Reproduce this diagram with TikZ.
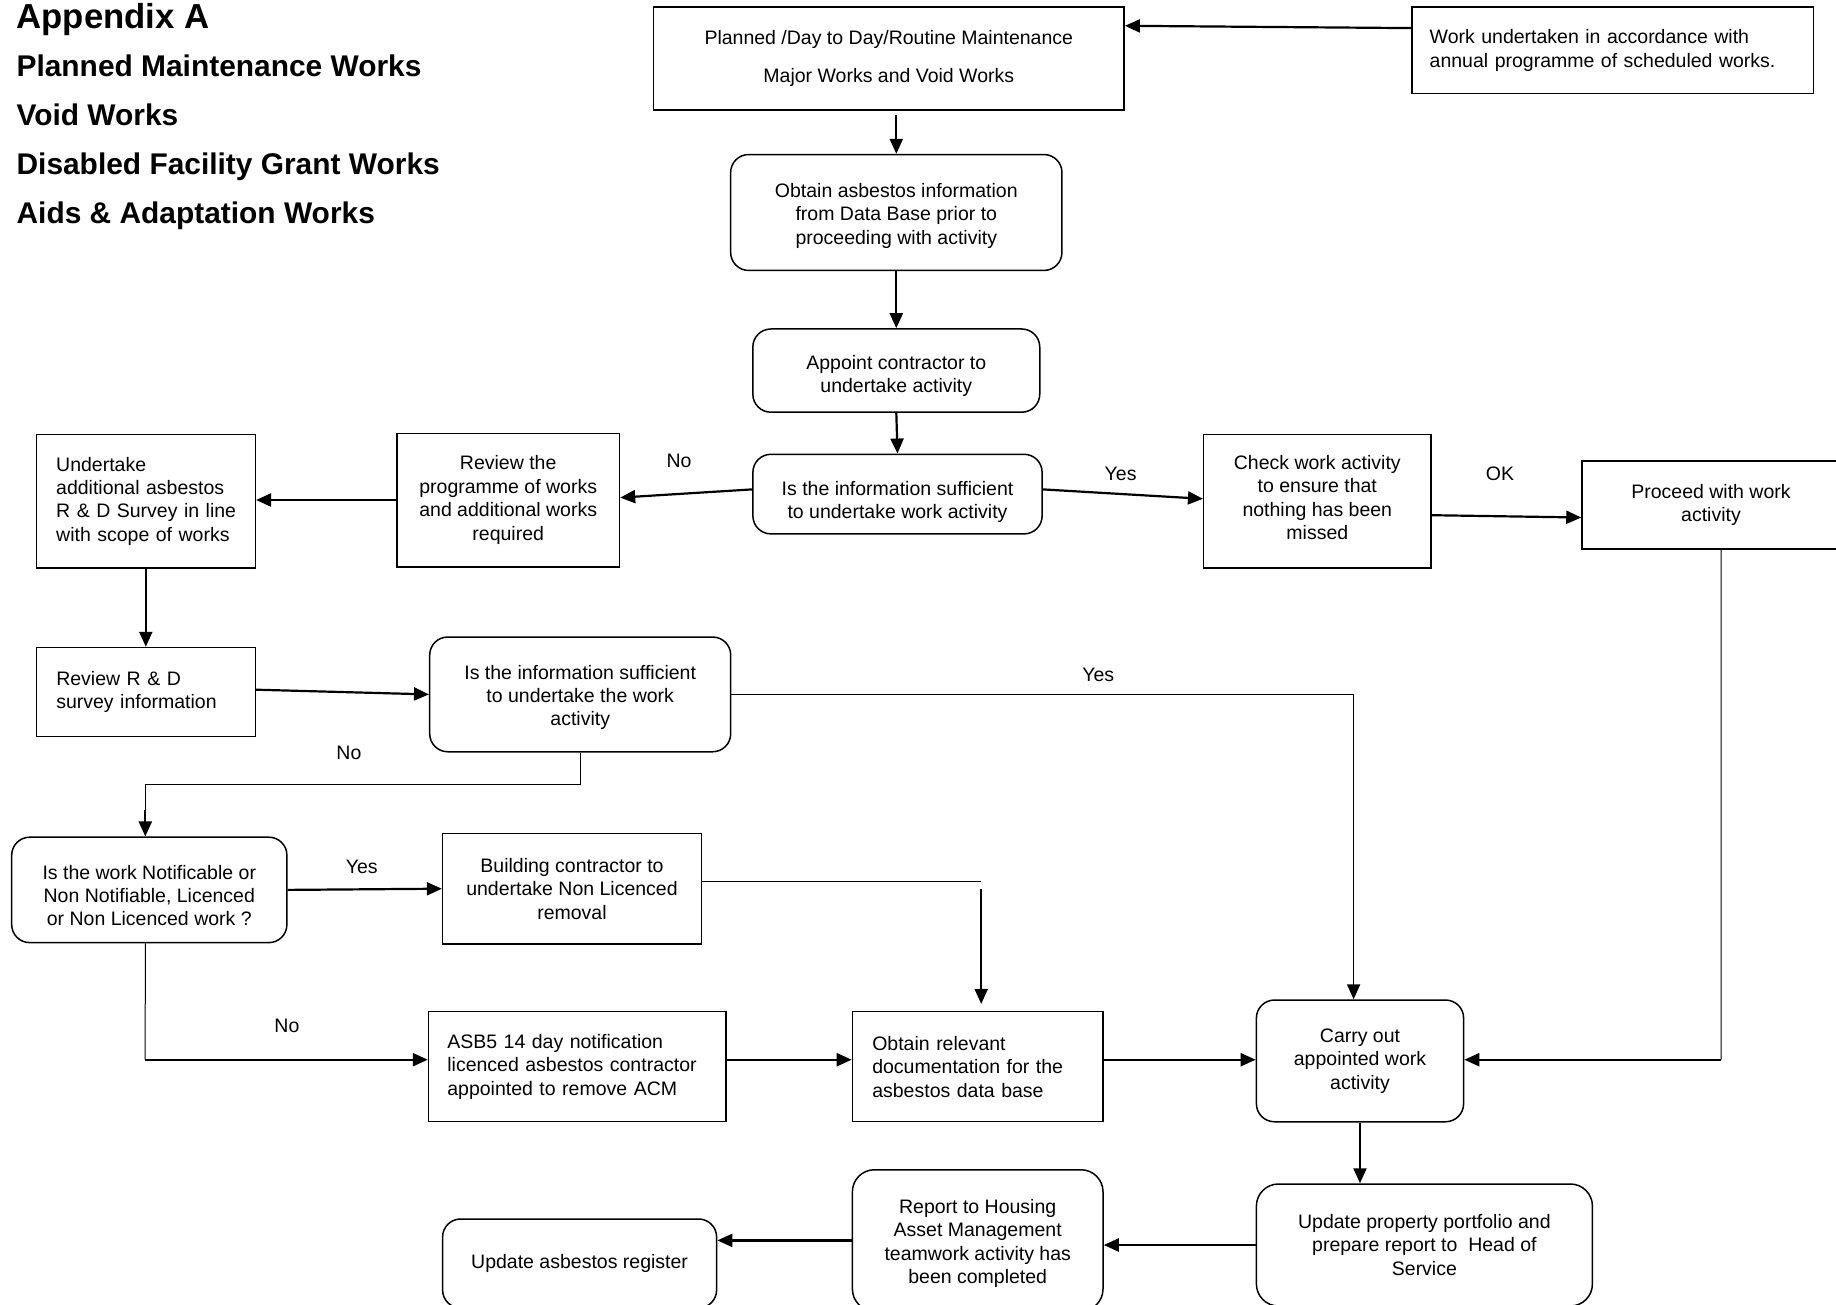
\documentclass[tikz,border=0pt]{standalone}
\usepackage{fontspec}
\setmainfont{Liberation Sans}
\usetikzlibrary{arrows.meta}
\newcommand\bodyfont{\fontsize{19.5}{23.4}\selectfont}
\newcommand\bigtitlefont{\fontsize{34.7}{40}\selectfont\bfseries}
\newcommand\subtitlefont{\fontsize{29.9}{34}\selectfont\bfseries}
% move a centred block of lines by #1 without changing its box
\newcommand\mvtext[2]{\raisebox{#1}[\height][\depth]{\begin{tabular}{@{}c@{}}#2\end{tabular}}}
\newcommand\ind{\hspace*{4.4pt}}
\tikzset{
  box/.style={draw, line width=1.5pt, inner sep=0pt, align=center, font=\bodyfont},
  rbox/.style={box, rounded corners=18pt},
  lbox/.style={box, align=left, inner ysep=0pt},
  arr/.style={line width=2.2pt, -{Triangle[length=15pt,width=13pt]}},
  thinline/.style={line width=1pt},
  lbl/.style={font=\bodyfont, inner sep=0pt},
  ttl/.style={anchor=base west, inner sep=0pt}
}
\begin{document}
\begin{tikzpicture}[x=1pt,y=-1pt]
\useasboundingbox[fill=white] (0,0) rectangle (1836,1305);

% titles
\node[ttl, font=\bigtitlefont] (t1) at (16.4,28.8) {Appendix A};
\node[ttl, font=\subtitlefont] (t2) at (16.4,76.3) {Planned Maintenance Works};
\node[ttl, font=\subtitlefont] (t3) at (16.4,125.4) {Void Works};
\node[ttl, font=\subtitlefont] (t4) at (16.4,174.6) {Disabled Facility Grant Works};
\node[ttl, font=\subtitlefont] (t5) at (16.4,223.8) {Aids \& Adaptation Works};

% boxes
\node[box, minimum width=470.7pt, minimum height=103pt] (A) at (888.8,58.5)
  {Planned /Day to Day/Routine Maintenance\\[14pt]Major Works and Void Works};
\node[lbox, text width=366.4pt, inner xsep=17.6pt, minimum height=86.7pt] (B) at (1612.9,50.4)
  {Work undertaken in accordance with\\annual programme of scheduled works.\\[12pt]};
\node[rbox, minimum width=331.3pt, minimum height=115.9pt] (C) at (896.3,212.5)
  {\mvtext{-3.5pt}{Obtain asbestos information\\from Data Base prior to\\proceeding with activity}};
\node[rbox, minimum width=286.9pt, minimum height=83.2pt] (D) at (896.3,370.6)
  {\mvtext{-5.9pt}{Appoint contractor to\\undertake activity}};
\node[rbox, minimum width=289.2pt, minimum height=79.6pt] (E) at (897.5,494.1)
  {\mvtext{-8pt}{Is the information sufficient\\to undertake work activity}};
\node[box, minimum width=222.5pt, minimum height=133.5pt] (F) at (508.2,500)
  {Review the\\programme of works\\and additional works\\required};
\node[lbox, text width=188pt, inner xsep=15.5pt, minimum height=133.5pt] (G) at (145.8,501.2)
  {\ind Undertake\\\ind additional asbestos\\\ind R \& D Survey in line\\\ind with scope of works\\[6pt]};
\node[box, minimum width=227.2pt, minimum height=133.5pt] (H) at (1317.3,501.2)
  {\mvtext{1.5pt}{Check work activity\\to ensure that\\nothing has been\\missed}};
\node[box, minimum width=258pt, minimum height=88pt] (I) at (1711,505.2)
  {Proceed with work\\activity};
\node[lbox, text width=179pt, inner xsep=20pt, minimum height=89pt] (K) at (145.8,692)
  {Review R \& D\\survey information};
\node[rbox, minimum width=301pt, minimum height=114.7pt] (L) at (580.2,694.4)
  {\mvtext{-3.5pt}{Is the information sufficient\\to undertake the work\\activity}};
\node[rbox, minimum width=275.2pt, minimum height=105.4pt] (M) at (149.3,889.9)
  {\mvtext{-8pt}{Is the work Notificable or\\Non Notifiable, Licenced\\or Non Licenced work ?}};
\node[box, minimum width=258.8pt, minimum height=110.1pt] (N) at (572,888.7)
  {Building contractor to\\undertake Non Licenced\\removal};
\node[lbox, text width=259.9pt, inner xsep=18.8pt, minimum height=110pt] (P) at (577.3,1066.7)
  {ASB5 14 day notification\\licenced asbestos contractor\\appointed to remove ACM\\[4pt]};
\node[lbox, text width=210.8pt, inner xsep=19.9pt, minimum height=110pt] (O) at (977.7,1066.7)
  {Obtain relevant\\documentation for the\\asbestos data base\\[6pt]};
\node[rbox, minimum width=207.2pt, minimum height=121.7pt] (J) at (1360,1060.9)
  {Carry out\\appointed work\\activity};
\node[rbox, minimum width=336pt, minimum height=122pt, rounded corners=22pt] (Q) at (1424.4,1245)
  {Update property portfolio and\\prepare report to~ Head of\\Service};
\node[rbox, minimum width=250.6pt, minimum height=141.3pt, rounded corners=22pt] (R) at (977.7,1240.4)
  {\mvtext{-3.5pt}{Report to Housing\\Asset Management\\teamwork activity has\\been completed}};
\node[rbox, minimum width=274pt, minimum height=89pt] (S) at (579.6,1263.5)
  {Update asbestos register};

% labels
\node[lbl] (lno1) at (679.1,461.3) {No};
\node[lbl] (lyes1) at (1120.6,474.2) {Yes};
\node[lbl] (lok) at (1500,474.2) {OK};
\node[lbl] (lyes2) at (1098.3,674.4) {Yes};
\node[lbl] (lno2) at (348.9,752.9) {No};
\node[lbl] (lyes3) at (361.8,866.5) {Yes};
\node[lbl] (lno3) at (286.9,1025.7) {No};

% free-end coordinates
\coordinate (n1) at (981.2,881.7);
\coordinate (m1) at (145.2,1059.7);
\coordinate (i1) at (1721.2,1059.7);
\coordinate (l1) at (1353.6,694.4);

% connectors
\draw[arr] ([yshift=22.3pt]B.west) -- ([yshift=32.7pt]A.east);
\draw[arr, shorten <=4.6pt] (C.north |- A.south) -- (C.north);
\draw[arr] (C.south) -- (D.north);
\draw[arr] (D.south) -- (E.north);
\draw[arr] ([yshift=4.7pt]E.west) -- ([yshift=2.4pt]F.east);
\draw[arr] (F.west) -- (F.west -| G.east);
\draw[arr] ([yshift=4.7pt]E.east) -- ([yshift=2.4pt]H.west);
\draw[arr] ([yshift=-14pt]H.east) -- ([yshift=-12.3pt]I.west);
\draw[thinline] ([xshift=10pt]I.south) -- (i1);
\draw[arr] (i1) -- (i1 -| J.east);
\draw[arr] (G.south) -- (K.north);
\draw[arr] ([yshift=2.3pt]K.east) -- (L.west);
\draw[thinline] (L.east) -- (l1);
\draw[arr, line width=1.6pt] (l1) -- (l1 |- J.north);
\draw[thinline] (L.south) -- ++(0,31.6) -| ([xshift=-4pt]M.north);
\draw[arr] ([xshift=-4pt]M.north) ++(0,-26) -- ([xshift=-4pt]M.north);
\draw[arr] (M.east) -- (N.west);
\draw[thinline] ([yshift=7pt]N.east) -- (n1);
\draw[arr, shorten <=7pt, shorten >=7pt] (n1) -- (n1 |- O.north);
\draw[thinline] ([xshift=-4pt]M.south) -- (m1);
\draw[arr] (m1) -- (m1 -| P.west);
\draw[arr] ([yshift=7pt]P.east) -- ([yshift=7pt]O.west);
\draw[arr] ([yshift=7pt]O.east) -- ([yshift=7pt]O.east -| J.west);
\draw[arr] (J.south) -- (J.south |- Q.north);
\draw[arr] (Q.west) -- (Q.west -| R.east);
\draw[arr] (R.west) -- (R.west -| S.east);
\end{tikzpicture}
\end{document}
